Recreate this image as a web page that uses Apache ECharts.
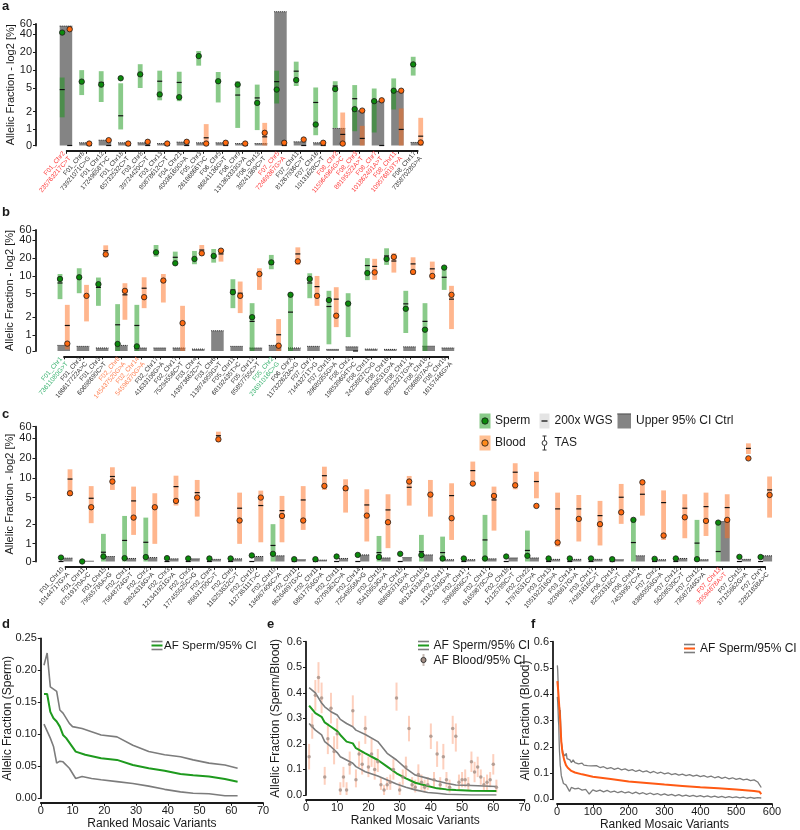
<!DOCTYPE html>
<html>
<head>
<meta charset="utf-8">
<script src="https://cdn.jsdelivr.net/npm/echarts@6/dist/echarts.min.js"></script>
<style>
html, body { margin: 0; padding: 0; background: #fff; }
#main { width: 800px; height: 830px; }
</style>
</head>
<body>
<div id="main"></div>
<script>
// ---------- panel a ----------
var aLabels = ['F01_Chr2\n235763217C>T', 'F01_Chr8\n73921071C>G', 'F01_Chr12\n17249658T>C', 'F01_Chr18\n65732532C>T',
  'F03_Chr8\n39724420C>T', 'F03_Chr13\n80878612C>T', 'F04_Chr21\n40036160G>A', 'F05_Chr3\n26186866T>C',
  'F06_Chr5\n86841136G>T', 'F06_Chr9\n131363333G>A', 'F06_Chr13\n38241369C>T', 'F07_Chr5\n72469367G>A',
  'F07_Chr11\n81267936C>T', 'F07_Chr16\n10131628C>T', 'F08_Chr2\n115964964G>C', 'F08_Chr3\n88195522A>T',
  'F08_Chr7\n101862491A>T', 'F08_Chr11\n109576819T>A', 'F08_Chr17\n73587028G>A'];
var aColors = 'rkkkkkkkkkkrkkrrrrk'.split('');
var aCtrl = [55.4, 0.17, 0.33, 0.17, 0.17, 0.12, 0.21, 0.17, 0.17, 0.12, 0.12, 96.7, 0.23, 0.17, 1.04, 2.06, 3.0, 4.4, 0.19];
var aSpermLo = [1.6, 3.8, 2.9, 1.0, 5.0, 3.1, 3.0, 11.9, 2.85, 1.06, 0.96, 2.74, 5.4, 0.64, 1.06, 0.89, 0.81, 2.17, 8.1];
var aSpermHi = [7.5, 10, 9.6, 6.0, 12.6, 9.8, 9.4, 21, 9.3, 6.5, 5.7, 9.8, 13.9, 5.1, 6.5, 5.6, 4.9, 7.25, 16.8];
var aSpermWgs = [4.7, 6.3, 6.2, 1.7, 8.4, 6.5, 6.2, 17, 6.5, 3.8, 3.4, 6.4, 9.6, 2.85, 5.4, 3.3, 3.1, 4.4, 12.5];
var aSpermTas = [43, 6.4, 5.7, 7.3, 8.5, 3.9, 3.5, 17.3, 6.5, 5.7, 2.8, 4.7, 6.8, 1.21, 4.8, 2.2, 3.0, 4.5, 12.5];
var aBloodLo = [null, null, null, null, null, null, null, 0, null, null, 0, null, null, null, 0, 0, null, 0, 0];
var aBloodHi = [null, null, null, null, null, null, null, 1.23, null, null, 1.29, null, null, null, 1.93, 1.15, null, 2.26, 1.57];
var aBloodWgs = [0, 0, 0, 0, 0, 0, 0, 0.48, 0, 0, 0.54, 0, 0, 0, 0.69, 0.44, 0, 1.0, 0.58];
var aBloodTas = [49, 0.12, 0.33, 0.12, 0.23, 0.12, 0.23, 0.12, 0.17, 0.12, 0.79, 0.17, 0.37, 0.17, 0.12, 2.08, 3.1, 4.5, 0.19];

// ---------- panel b ----------
var bLabels = ['F01_Chr1\n73611080G>T', 'F01_Chr3\n186617722A>C', 'F01_Chr3\n60698690C>T', 'F02_Chr8\n145437520G>A',
  'F02_Chr14\n54596370G>A', 'F02_Chr17\n41633108G>A', 'F02_Chr17\n75294556C>T', 'F03_Chr4\n143973662C>T',
  'F03_Chr6\n113974959G>T', 'F05_Chr11\n68192435T>C', 'F05_Chr12\n85857755C>T', 'F05_Chr2\n23691016C>G',
  'F06_ChrX\n117322623A>G', 'F07_Chr7\n71443271T>G', 'F07_Chr15\n39680355G>A', 'F08_Chr2\n198539604T>C',
  'F08_Chr11\n24258827C>G', 'F08_Chr16\n60830531G>A', 'F08_Chr17\n80823217G>A', 'F08_Chr18\n67068807A>C',
  'F08_Chr19\n16157446G>A'];
var bColors = 'gkkookkkkkkgkkkkkkkkk'.split('');
var bCtrl = [0.35, 0.29, 0.19, 0.35, 0.19, 0.19, 0.19, 0.12, 1.18, 0.29, 0.19, 0.35, 0.19, 0.29, 0.1, 0.26, 0.12, 0.1, 0.26, 0.3, 0.19];
var bSpermLo = [4.05, 5.1, 3.12, 0, 0, 21.2, 15.8, 15.8, 16.8, 2.85, 0, 13, 0, 4.2, 0.42, 0.87, 8.5, 15.4, 1.08, 0, 5.8];
var bSpermHi = [10.8, 13.5, 9.4, 3.33, 3.24, 33.4, 25.8, 26.5, 28.6, 8.8, 3.46, 22.7, 5.1, 11.1, 5.6, 5.1, 20, 29.4, 5.6, 3.46, 14.8];
var bSpermWgs = [7.6, 9.3, 6.4, 1.49, 1.45, 25.5, 20.7, 19.5, 21.5, 5.8, 1.7, 16, 2.44, 7.6, 3.04, 3.5, 15, 21.8, 3.37, 1.7, 9.5];
var bSpermTas = [8.9, 9.5, 7.25, 0.44, 0.29, 25.1, 16.4, 19.4, 21.8, 5.3, 2.0, 17, 4.8, 8.9, 3.9, 3.4, 11.2, 19.4, 2.78, 1.23, 13.85];
var bBloodLo = [0.1, 1.7, 20.7, 1.81, 2.85, 3.55, 0, 21.8, 17.5, 2.35, 5.8, 0, 15.4, 3.12, 1.36, null, 8.6, 11.4, 10.4, 8.57, 1.26];
var bBloodHi = [3.24, 7.06, 33, 7.53, 9.5, 10.8, 3.12, 33.4, 28.6, 8.04, 13.5, 1.86, 30.5, 10, 6.45, null, 19.5, 24.2, 20.7, 17.5, 6.8];
var bBloodWgs = [1.45, 4.66, 26.8, 4.79, 6.2, 8.04, 1.6, 27.5, 23.6, 5.1, 10.4, 1.01, 23.6, 6.6, 4.05, 0, 14.5, 17.9, 16, 13.2, 4.05];
var bBloodTas = [0.46, 4.6, 23.2, 5.59, 4.37, 8.36, 1.59, 24.2, 26.8, 4.6, 10.8, 0.33, 17.7, 4.6, 2.12, null, 11.5, 21, 11.7, 10.0, 4.79];

// ---------- panel c ----------
var cLabels = ['F01_Chr10\n10144717G>A', 'F01_Chr11\n87519170A>C', 'F01_Chr15\n79565736A>G', 'F02_Chr1\n75648724G>T',
  'F02_Chr2\n83924316G>A', 'F02_Chr3\n121341921G>A', 'F02_Chr3\n177455525C>G', 'F02_Chr4\n86631700C>T',
  'F02_Chr6\n116253632C>T', 'F02_Chr10\n112736111T>C', 'F02_Chr10\n134967406C>A', 'F02_Chr11\n86264897G>C',
  'F02_Chr11\n68617756G>A', 'F02_Chr11\n92709362C>A', 'F02_Chr14\n72549558A>G', 'F02_Chr15\n55410653G>A',
  'F02_Chr15\n86868371G>A', 'F02_Chr16\n96124133A>G', 'F02_Chr17\n21162433G>A', 'F02_Chr17\n33968606C>T',
  'F02_Chr17\n61659870C>G', 'F02_Chr18\n12125789C>T', 'F02_Chr22\n17976531C>A', 'F03_Chr13\n105192216G>A',
  'F03_Chr14\n92396617G>A', 'F03_Chr17\n74391816C>T', 'F06_Chr14\n82523316C>T', 'F06_Chr14\n74539957C>A',
  'F07_Chr2\n83860556G>A', 'F07_Chr12\n56208530C>T', 'F07_Chr12\n73587246G>A', 'F07_Chr13\n30594878A>T',
  'F07_Chr15\n37125662G>A', 'F07_ChrY\n22821838A>C'];
var cColors = 'kkkkkkkkkkkkkkkkkkkkkkkkkkkkkkkrkk'.split('');
var cCtrl = [0.19, 0.02, 0.28, 0.17, 0.22, 0.15, 0.15, 0.12, 0.15, 0.28, 0.32, 0.1, 0.08, 0.17, 0.37, 0.2, 0.22,
  0.37, 0.1, 0.1, 0.15, 0.2, 0.2, 0.12, 0.12, 0.12, 0.1, 0.32, 0.1, 0.17, 0.1, 2.17, 0.12, 0.32];
var cSpermLo = [null, null, 0, 0, 0, null, null, null, null, null, 0, null, null, null, null, 0, null,
  0, 0, null, 0, null, 0, null, null, null, null, 0, null, null, 0, 0, null, null];
var cSpermHi = [null, null, 1.41, 2.64, 2.49, null, null, null, null, null, 1.98, null, null, null, null, 1.31, null,
  1.36, 1.28, null, 2.74, null, 1.58, null, null, null, null, 2.3, null, null, 2.3, 2.09, null, null];
var cSpermWgs = [0, 0, 0.52, 1.12, 1.05, 0, 0, 0, 0, 0, 0.9, 0, 0, 0, 0, 0.5, 0,
  0.55, 0.5, 0, 1.14, 0, 0.62, 0, 0, 0, 0, 1.04, 0, 0, 1.02, 0.56, 0, 0];
var cSpermTas = [0.22, 0, 0.28, 0.19, 0.25, 0.19, 0.17, 0.17, 0.17, 0.34, 0.43, 0.13, 0.13, 0.28, 0.37, 0.25, 0.43,
  0.36, 0.17, 0.17, 0.17, 0.28, 0.32, 0.17, 0.17, 0.17, 0.13, 2.3, 0.15, 0.17, 0.13, 2.09, 0.26, 0.25];
var cBloodLo = [5.3, 2.05, 6.56, 1.36, 0.99, 3.8, 2.58, 35.5, 0.99, 1.05, 1.05, 1.62, 6.56, 2.97, 1.08, 0.75, 3.79,
  2.58, 1.14, 8.8, 1.58, 6.71, 4.9, 0.84, 1.08, 0.9, 2.0, 2.67, 1.14, 1.21, 1.31, 1.21, 23.1, 2.49];
var cBloodHi = [13.5, 7.5, 14.5, 7.37, 5.84, 10.8, 9.3, 50.4, 5.97, 6.4, 5.32, 7.5, 14.8, 9.52, 6.71, 5.64, 10.7,
  9.3, 8.28, 17.7, 7.37, 16.7, 12.4, 5.97, 5.5, 4.47, 8.09, 9.3, 6.45, 5.64, 5.97, 5.64, 33.5, 10.5];
var cBloodWgs = [9.6, 4.9, 10.5, 4.47, 3.6, 7.37, 5.97, 43.8, 3.46, 3.8, 3.18, 4.62, 10.8, 6.56, 3.88, 3.26, 7.2,
  5.6, 5.38, 12.9, 4.62, 12.2, 8.8, 3.38, 3.38, 2.67, 5.08, 5.64, 4.21, 3.46, 3.66, 3.54, 28.1, 6.56];
var cBloodTas = [5.84, 3.58, 8.8, 2.49, 3.58, 4.47, 5.02, 38.5, 2.25, 5.02, 2.64, 2.25, 7.54, 6.95, 2.67, 2.12, 8.8,
  5.57, 2.44, 8.19, 5.32, 7.72, 3.75, 1.04, 2.38, 1.98, 3.0, 8.57, 1.33, 2.52, 2.22, 2.3, 19.8, 5.5];

// y tick labels of a-c (40 sits on a helper axis so it is not hidden next to 60)
var yTickVals = [0, 1, 2, 5, 10, 20, 60];
var yTickValsExtra = [40];

// ---------- panel d ----------
var dUpper = [[1, 0.208], [2, 0.227], [3, 0.174], [5, 0.167], [6, 0.138], [7, 0.133], [9, 0.117], [10, 0.112], [13, 0.109],
  [16, 0.104], [19, 0.099], [24, 0.096], [29, 0.083], [34, 0.073], [39, 0.068], [44, 0.065], [48, 0.060], [53, 0.055],
  [58, 0.052], [62, 0.047]];
var dSperm = [[1, 0.163], [2, 0.163], [3, 0.135], [4, 0.125], [5, 0.12], [6, 0.112], [7, 0.099], [8, 0.094], [10, 0.08],
  [11, 0.073], [14, 0.068], [19, 0.0625], [24, 0.06], [29, 0.052], [34, 0.047], [39, 0.043], [44, 0.038], [48, 0.036],
  [53, 0.034], [58, 0.030], [62, 0.026]];
var dLower = [[1, 0.116], [3, 0.094], [4, 0.081], [5, 0.055], [6, 0.058], [7, 0.057], [9, 0.047], [11, 0.031], [13, 0.034],
  [16, 0.031], [19, 0.029], [24, 0.026], [29, 0.023], [34, 0.019], [39, 0.014], [44, 0.010], [48, 0.008], [53, 0.007],
  [58, 0.004], [62, 0.004]];

// ---------- panel e ----------
var eUpper = [[1, 0.42], [3, 0.40], [5, 0.36], [6, 0.345], [8, 0.326], [10, 0.313], [11, 0.296], [13, 0.28], [15, 0.267],
  [16, 0.254], [19, 0.237], [23, 0.209], [26, 0.163], [29, 0.137], [32, 0.104], [35, 0.078], [39, 0.065], [42, 0.055],
  [45, 0.046], [48, 0.039], [53, 0.037], [61, 0.033]];
var eSperm = [[1, 0.35], [3, 0.32], [5, 0.306], [6, 0.284], [8, 0.267], [10, 0.25], [11, 0.235], [13, 0.209], [15, 0.202],
  [16, 0.183], [19, 0.163], [23, 0.137], [26, 0.111], [29, 0.085], [32, 0.065], [35, 0.048], [39, 0.035], [42, 0.026],
  [45, 0.022], [48, 0.02], [53, 0.017], [61, 0.016]];
var eLower = [[1, 0.28], [3, 0.254], [5, 0.235], [6, 0.209], [8, 0.189], [10, 0.166], [11, 0.15], [13, 0.137], [15, 0.124],
  [16, 0.111], [19, 0.091], [23, 0.074], [26, 0.059], [29, 0.043], [32, 0.03], [35, 0.02], [39, 0.01], [42, 0.007],
  [45, 0.003], [53, 0.0], [61, 0.0]];
var eBlood = [0.15, 0.27, 0.39, 0.46, 0.38, 0.07, 0.22, 0.34, 0.17, 0.24, 0.02, 0.07, 0.02, 0.12, 0.33, 0.06, 0.16, 0.12,
  0.26, 0.11, 0.16, 0.10, 0.13, 0.04, 0.02, 0.04, 0.05, 0.10, 0.38, 0.02, 0.07, 0.11, 0.26, 0.04, 0.03, 0.08, 0.05, 0.03,
  0.04, 0.23, 0.06, 0.16, 0.04, 0.15, 0.06, 0.03, 0.26, 0.23, 0.05, 0.06, 0.06, 0.04, 0.13, 0.09, 0.11, 0.07, 0.04, 0.05,
  0.06, 0.12, 0.03];
var eBloodLo = [0.10, 0.22, 0.33, 0.40, 0.32, 0.04, 0.16, 0.28, 0.12, 0.18, 0.00, 0.03, 0.00, 0.08, 0.27, 0.03, 0.11, 0.08,
  0.20, 0.07, 0.11, 0.06, 0.09, 0.02, 0.00, 0.02, 0.02, 0.06, 0.33, 0.00, 0.04, 0.07, 0.21, 0.02, 0.01, 0.05, 0.02, 0.01,
  0.02, 0.18, 0.03, 0.11, 0.02, 0.10, 0.03, 0.01, 0.20, 0.17, 0.02, 0.03, 0.03, 0.02, 0.09, 0.05, 0.07, 0.04, 0.02, 0.02,
  0.03, 0.08, 0.01];
var eBloodHi = [0.20, 0.32, 0.45, 0.52, 0.44, 0.11, 0.28, 0.40, 0.23, 0.30, 0.05, 0.11, 0.05, 0.17, 0.39, 0.10, 0.21, 0.17,
  0.31, 0.15, 0.22, 0.14, 0.18, 0.07, 0.04, 0.07, 0.08, 0.14, 0.44, 0.05, 0.10, 0.15, 0.31, 0.07, 0.06, 0.12, 0.08, 0.06,
  0.07, 0.28, 0.09, 0.21, 0.07, 0.20, 0.09, 0.06, 0.31, 0.28, 0.08, 0.09, 0.10, 0.07, 0.17, 0.13, 0.15, 0.10, 0.07, 0.08,
  0.09, 0.16, 0.06];

// ---------- panel f ----------
var fUpper = [[1, 0.51], [2, 0.49], [3, 0.45], [4, 0.38], [5, 0.36], [6, 0.34], [7, 0.35], [8, 0.33], [9, 0.34], [10, 0.30],
  [11, 0.25], [12, 0.22], [13, 0.21], [14, 0.20], [15, 0.19], [16, 0.19], [17, 0.175], [18, 0.17], [19, 0.18], [20, 0.175],
  [22, 0.165], [24, 0.16], [26, 0.175], [28, 0.155], [30, 0.15], [33, 0.16], [36, 0.15], [40, 0.14], [45, 0.15], [50, 0.14],
  [55, 0.145], [60, 0.135], [65, 0.14], [70, 0.138], [75, 0.13], [80, 0.134], [85, 0.128], [90, 0.132], [95, 0.127],
  [100, 0.125], [110, 0.128], [120, 0.121], [130, 0.124], [140, 0.117], [150, 0.121], [160, 0.114], [170, 0.119],
  [180, 0.112], [190, 0.116], [200, 0.109], [210, 0.113], [220, 0.106], [230, 0.111], [240, 0.104], [250, 0.108],
  [260, 0.101], [270, 0.106], [280, 0.099], [290, 0.103], [300, 0.097], [310, 0.101], [320, 0.094], [330, 0.098],
  [340, 0.092], [350, 0.096], [360, 0.09], [370, 0.094], [380, 0.088], [390, 0.092], [400, 0.086], [410, 0.09],
  [420, 0.084], [430, 0.088], [440, 0.082], [450, 0.086], [460, 0.08], [470, 0.084], [480, 0.078], [490, 0.082],
  [500, 0.076], [510, 0.08], [520, 0.074], [530, 0.077], [540, 0.071], [550, 0.074], [560, 0.066], [565, 0.06], [570, 0.045]];
var fBlood = [[1, 0.45], [3, 0.42], [5, 0.38], [8, 0.32], [10, 0.27], [12, 0.22], [15, 0.18], [20, 0.15], [25, 0.13],
  [30, 0.12], [40, 0.108], [50, 0.102], [70, 0.095], [100, 0.086], [150, 0.077], [200, 0.068], [250, 0.062], [300, 0.056],
  [350, 0.051], [400, 0.046], [450, 0.042], [500, 0.037], [550, 0.032], [565, 0.029], [570, 0.02]];
var fLower = [[1, 0.39], [2, 0.37], [3, 0.34], [4, 0.30], [5, 0.28], [6, 0.22], [7, 0.18], [8, 0.16], [9, 0.13], [10, 0.12],
  [12, 0.09], [14, 0.08], [16, 0.075], [18, 0.06], [20, 0.065], [25, 0.055], [30, 0.05], [35, 0.03], [40, 0.045],
  [50, 0.04], [60, 0.042], [70, 0.035], [80, 0.038], [90, 0.02], [100, 0.036], [110, 0.03], [120, 0.035], [130, 0.028],
  [140, 0.034], [150, 0.027], [160, 0.031], [170, 0.025], [180, 0.03], [190, 0.024], [200, 0.028], [210, 0.022],
  [220, 0.027], [230, 0.021], [240, 0.025], [250, 0.019], [260, 0.024], [270, 0.018], [280, 0.022], [290, 0.016],
  [300, 0.021], [310, 0.015], [320, 0.019], [330, 0.013], [340, 0.018], [350, 0.012], [360, 0.016], [370, 0.011],
  [380, 0.015], [390, 0.01], [400, 0.014], [410, 0.009], [420, 0.013], [430, 0.008], [440, 0.012], [450, 0.007],
  [460, 0.011], [470, 0.006], [480, 0.01], [490, 0.006], [500, 0.009], [510, 0.005], [520, 0.008], [530, 0.004],
  [540, 0.007], [550, 0.004], [560, 0.006], [570, 0.005]];

var FONT = '"Liberation Sans", Arial, sans-serif';
var INK = '#1a1a1a';
var LOG_MIN = -0.9, LOG_MAX = Math.log2(60);

// axis is log2 above 1 %, linear between 0 and 1 %
function tf(v) { return v >= 1 ? Math.log2(v) : LOG_MIN * (1 - v); }
var yTickPos = yTickVals.map(tf);
var yTickPosExtra = yTickValsExtra.map(tf);
function tickLabel(v) {
  var all = yTickVals.concat(yTickValsExtra), best = all[0];
  all.forEach(function (t) { if (Math.abs(tf(t) - v) < Math.abs(tf(best) - v)) best = t; });
  return String(best);
}

var labelColors = { k: '#333', r: '#ff3b3b', g: '#3cb371', o: '#ff7f50' };
var rich = {};
Object.keys(labelColors).forEach(function (k) {
  rich[k] = { color: labelColors[k], fontSize: 6.5, lineHeight: 7.5, fontFamily: FONT };
});

var panels = [
  { labels: aLabels, colors: aColors, ctrl: aCtrl, sLo: aSpermLo, sHi: aSpermHi, sWgs: aSpermWgs, sTas: aSpermTas,
    bLo: aBloodLo, bHi: aBloodHi, bWgs: aBloodWgs, bTas: aBloodTas, sOff: -4.5, bOff: 3, gL: -7, gR: 5.5,
    grid: { left: 66.7, top: 24, width: 351, height: 121.5 }, yOff: 30.7, rot: 50 },
  { labels: bLabels, colors: bColors, ctrl: bCtrl, sLo: bSpermLo, sHi: bSpermHi, sWgs: bSpermWgs, sTas: bSpermTas,
    bLo: bBloodLo, bHi: bBloodHi, bWgs: bBloodWgs, bTas: bBloodTas, sOff: -4, bOff: 3.3, gL: -6.5, gR: 6,
    grid: { left: 64, top: 230, width: 384.2, height: 121 }, yOff: 28.5, rot: 50 },
  { labels: cLabels, colors: cColors, ctrl: cCtrl, sLo: cSpermLo, sHi: cSpermHi, sWgs: cSpermWgs, sTas: cSpermTas,
    bLo: cBloodLo, bHi: cBloodHi, bWgs: cBloodWgs, bTas: cBloodTas, sOff: -4.5, bOff: 4.5, gL: -2.2, gR: 7,
    grid: { left: 65.5, top: 426.7, width: 699.6, height: 134.8 }, yOff: 30, rot: 48 }
];

function renderVariant(p) {
  return function (params, api) {
    var i = api.value(0);
    var base = api.coord([i, LOG_MIN]);
    var x0 = base[0], yF = base[1];
    function Y(v) { return api.coord([i, tf(v)])[1]; }
    var xs = x0 + p.sOff, xb = x0 + p.bOff;
    var g = [];
    if (p.ctrl[i] != null) {
      var yc = Y(p.ctrl[i]);
      g.push({ type: 'rect', shape: { x: x0 + p.gL, y: yc, width: p.gR - p.gL, height: yF - yc }, style: { fill: '#848484' } });
      g.push({ type: 'line', shape: { x1: x0 + p.gL, y1: yc, x2: x0 + p.gR, y2: yc },
        style: { stroke: '#222', lineWidth: 1, lineDash: [1, 1] } });
    }
    function ci(x, lo, hi, fill) {
      if (hi == null) return;
      var y1 = Y(hi), y2 = Y(lo);
      g.push({ type: 'rect', shape: { x: x - 2.4, y: y1, width: 4.8, height: y2 - y1 }, style: { fill: fill } });
    }
    function dash(x, v) {
      if (v == null) return;
      var y = Y(v);
      g.push({ type: 'line', shape: { x1: x - 2.5, y1: y, x2: x + 2.5, y2: y }, style: { stroke: '#111', lineWidth: 1.2 } });
    }
    function dot(x, v, fill) {
      if (v == null) return;
      g.push({ type: 'circle', shape: { cx: x, cy: Y(v), r: 2.7 }, style: { fill: fill, stroke: '#1a1a1a', lineWidth: 0.8 } });
    }
    ci(xs, p.sLo[i], p.sHi[i], 'rgba(20,150,20,0.5)');
    ci(xb, p.bLo[i], p.bHi[i], 'rgba(255,110,30,0.5)');
    dash(xs, p.sWgs[i]);
    dash(xb, p.bWgs[i]);
    dot(xs, p.sTas[i], '#0b8a0b');
    dot(xb, p.bTas[i], '#ff6a10');
    return { type: 'group', children: g };
  };
}

var grids = [], xAxes = [], yAxes = [], extraYAxes = [], series = [];

panels.forEach(function (p, k) {
  grids.push(Object.assign({ outerBoundsMode: 'none', containLabel: false }, p.grid));
  xAxes.push({
    gridIndex: k, type: 'category', data: p.labels, boundaryGap: false, offset: 5.3,
    axisLine: { onZero: false, lineStyle: { color: INK, width: 1.8 } },
    axisTick: { length: 3, lineStyle: { color: INK, width: 1 } },
    splitLine: { show: false },
    axisLabel: {
      rotate: p.rot, interval: 0, margin: 4,
      formatter: function (v, idx) {
        var c = p.colors[idx];
        return v.split('\n').map(function (s) { return '{' + c + '|' + s + '}'; }).join('\n');
      },
      rich: rich
    }
  });
  var labelStyle = { fontSize: 11, color: INK, fontFamily: FONT, margin: 4, showMinLabel: true, showMaxLabel: true,
    hideOverlap: false, formatter: tickLabel };
  yAxes.push({
    gridIndex: k, type: 'value', min: LOG_MIN, max: LOG_MAX, offset: p.yOff,
    splitLine: { show: false },
    axisLine: { show: true, onZero: false, lineStyle: { color: INK, width: 1.8 } },
    axisTick: { show: true, customValues: yTickPos, length: 3, lineStyle: { color: INK } },
    axisLabel: Object.assign({ customValues: yTickPos }, labelStyle),
    name: 'Allelic Fraction - log2 [%]', nameLocation: 'middle', nameGap: 20, nameMoveOverlap: false,
    nameTextStyle: { fontSize: 11, color: INK, fontFamily: FONT }
  });
  extraYAxes.push({
    gridIndex: k, type: 'value', min: LOG_MIN, max: LOG_MAX, offset: p.yOff, position: 'left',
    splitLine: { show: false },
    axisLine: { show: false, onZero: false },
    axisTick: { show: true, customValues: yTickPosExtra, length: 3, lineStyle: { color: INK } },
    axisLabel: Object.assign({ customValues: yTickPosExtra }, labelStyle)
  });
  series.push({
    type: 'custom', xAxisIndex: k, yAxisIndex: k, silent: true,
    data: p.labels.map(function (_, i) { return [i, 0]; }),
    encode: { x: 0, y: 1 },
    renderItem: renderVariant(p)
  });
});

// line panels d, e, f
var lineGrids = [
  { left: 40.8, top: 638.3, width: 222.2, height: 160 },
  { left: 306, top: 641.7, width: 218.5, height: 153.3 },
  { left: 557, top: 641.7, width: 215, height: 157.6 }
];
var lineYNames = ['Allelic Fraction (Sperm)', 'Allelic Fraction (Sperm/Blood)', 'Allelic Fraction (Blood)'];
var lineX = [[0, 70, 10], [0, 70, 10], [0, 600, 100]];
var lineY = [[0, 0.25, 0.05, 2], [0, 0.6, 0.1, 1], [0, 0.6, 0.1, 1]];
var lineYOff = [0, 0, 4];
var lineNameGap = [27, 24, 21];

lineGrids.forEach(function (gr, j) {
  var k = 3 + j;
  grids.push(Object.assign({ outerBoundsMode: 'none', containLabel: false }, gr));
  xAxes.push({
    gridIndex: k, type: 'value', min: lineX[j][0], max: lineX[j][1], interval: lineX[j][2], offset: 4.5,
    splitLine: { show: false },
    axisLine: { onZero: false, lineStyle: { color: INK, width: 1.8 } },
    axisTick: { length: 3, lineStyle: { color: INK } },
    axisLabel: { fontSize: 11, color: INK, fontFamily: FONT, margin: 3 },
    name: 'Ranked Mosaic Variants', nameLocation: 'middle', nameGap: 15,
    nameTextStyle: { fontSize: 12, color: INK, fontFamily: FONT }
  });
  yAxes.push({
    gridIndex: k, type: 'value', min: lineY[j][0], max: lineY[j][1], interval: lineY[j][2], offset: lineYOff[j],
    splitLine: { show: false },
    axisLine: { show: true, onZero: false, lineStyle: { color: INK, width: 1.8 } },
    axisTick: { show: true, length: 3, lineStyle: { color: INK } },
    axisLabel: {
      fontSize: 11, color: INK, fontFamily: FONT, margin: 4, showMaxLabel: true, showMinLabel: true,
      formatter: (function (d) { return function (v) { return v.toFixed(d); }; })(lineY[j][3])
    },
    name: lineYNames[j], nameLocation: 'middle', nameGap: lineNameGap[j], nameMoveOverlap: false,
    nameTextStyle: { fontSize: 12, color: INK, fontFamily: FONT }
  });
});
yAxes = yAxes.concat(extraYAxes);

function lineSeries(k, data, color, width, z) {
  return { type: 'line', xAxisIndex: k, yAxisIndex: k, data: data, showSymbol: false, silent: true, z: z || 3,
    lineStyle: { color: color, width: width } };
}
var GRAY = '#7c7c7c', GREEN = '#1e9a1e', ORANGE = '#ff5a14';
series.push(lineSeries(3, dUpper, GRAY, 1.6), lineSeries(3, dLower, GRAY, 1.6), lineSeries(3, dSperm, GREEN, 2));

series.push({
  type: 'custom', xAxisIndex: 4, yAxisIndex: 4, silent: true, z: 2,
  data: eBlood.map(function (v, i) { return [i + 1, v, eBloodLo[i], eBloodHi[i]]; }),
  encode: { x: 0, y: 1 },
  renderItem: function (params, api) {
    var a = api.coord([api.value(0), api.value(2)]);
    var b = api.coord([api.value(0), api.value(3)]);
    return { type: 'line', shape: { x1: a[0], y1: a[1], x2: b[0], y2: b[1] },
      style: { stroke: 'rgba(250,150,110,0.45)', lineWidth: 2 } };
  }
});
series.push(lineSeries(4, eUpper, GRAY, 1.6), lineSeries(4, eLower, GRAY, 1.6), lineSeries(4, eSperm, GREEN, 2));
series.push({
  type: 'scatter', xAxisIndex: 4, yAxisIndex: 4, silent: true, z: 4, symbolSize: 3.5,
  data: eBlood.map(function (v, i) { return [i + 1, v]; }),
  itemStyle: { color: '#a38f86' }
});
series.push(lineSeries(5, fUpper, GRAY, 1.3), lineSeries(5, fLower, GRAY, 1.3), lineSeries(5, fBlood, ORANGE, 2));

// legends and panel letters
function gText(x, y, t, size, bold) {
  return { type: 'text', x: x, y: y, silent: true,
    style: { text: t, fill: INK, font: (bold ? 'bold ' : '') + size + 'px ' + FONT, textVerticalAlign: 'middle', verticalAlign: 'middle' } };
}
function gRect(x, y, w, h, fill) { return { type: 'rect', silent: true, shape: { x: x, y: y, width: w, height: h }, style: { fill: fill } }; }
function gLine(x1, y1, x2, y2, stroke, w, dashArr) {
  return { type: 'line', silent: true, shape: { x1: x1, y1: y1, x2: x2, y2: y2 },
    style: { stroke: stroke, lineWidth: w, lineDash: dashArr || null } };
}
function gDot(cx, cy, r, fill) {
  return { type: 'circle', silent: true, shape: { cx: cx, cy: cy, r: r }, style: { fill: fill, stroke: '#1a1a1a', lineWidth: 0.8 } };
}
function triLegend(x, y, mid) {
  return [gLine(x, y - 4, x + 11, y - 4, GRAY, 1.6), gLine(x, y, x + 11, y, mid, 2), gLine(x, y + 4, x + 11, y + 4, GRAY, 1.6)];
}

var graphics = [
  gText(2, 6, 'a', 13, true), gText(2, 212, 'b', 13, true), gText(2, 414, 'c', 13, true),
  gText(2, 624, 'd', 13, true), gText(267, 624, 'e', 13, true), gText(531, 624, 'f', 13, true),
  // panel c legend
  gRect(479.5, 413.5, 11, 15, 'rgba(20,150,20,0.5)'), gDot(485, 421, 3.2, '#0b8a0b'), gText(495, 421, 'Sperm', 12),
  gRect(539.5, 413.5, 10, 15, '#e4e4e4'), gLine(541.5, 421, 547.5, 421, '#111', 1.3), gText(554.5, 421, '200x WGS', 12),
  gRect(617.5, 413.5, 13.5, 15, '#848484'), gLine(617.5, 414, 631, 414, '#222', 1, [1, 1]), gText(636, 421, 'Upper 95% CI Ctrl', 12),
  gRect(479.5, 435.5, 11, 15, 'rgba(255,130,40,0.5)'), gDot(485, 443, 3.2, '#ff8a1a'), gText(495, 443, 'Blood', 12),
  gLine(544.5, 436, 544.5, 450, '#333', 1), gLine(542.5, 436, 546.5, 436, '#333', 1), gLine(542.5, 450, 546.5, 450, '#333', 1),
  { type: 'circle', silent: true, shape: { cx: 544.5, cy: 443, r: 2.4 }, style: { fill: '#fff', stroke: '#333', lineWidth: 1 } },
  gText(554.5, 443, 'TAS', 12),
  // d, e, f legends
  gText(164, 645.5, 'AF Sperm/95% CI', 11.5),
  gText(433.5, 645.5, 'AF Sperm/95% CI', 12),
  gLine(423.5, 654, 423.5, 666, 'rgba(160,140,130,0.6)', 2), gDot(423.5, 660, 2.6, '#a38f86'),
  gText(433.5, 660.5, 'AF Blood/95% CI', 12),
  gText(700, 648.5, 'AF Sperm/95% CI', 12)
].concat(triLegend(151.5, 645.5, GREEN), triLegend(418, 645.5, GREEN), triLegend(684, 648.5, ORANGE));

var chart = echarts.init(document.getElementById('main'), null, { renderer: 'canvas' });
chart.setOption({
  animation: false,
  backgroundColor: '#fff',
  textStyle: { fontFamily: FONT },
  grid: grids,
  xAxis: xAxes,
  yAxis: yAxes,
  series: series,
  graphic: { elements: graphics }
});
</script>
</body>
</html>
